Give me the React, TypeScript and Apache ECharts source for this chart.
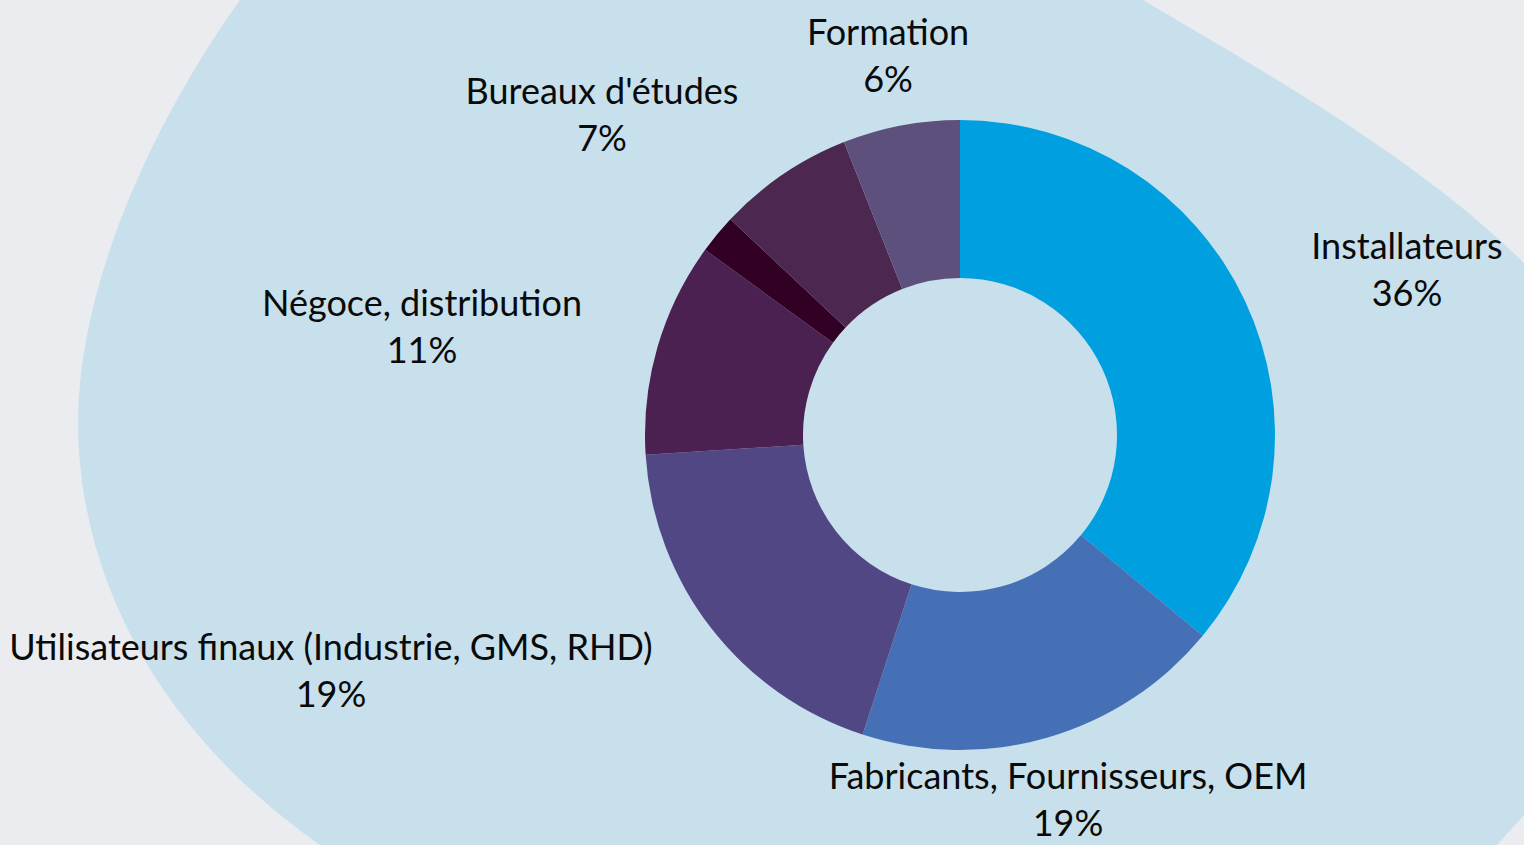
import React, { useEffect, useRef } from "react";
import * as echarts from "echarts";

const categories = [
  "Installateurs",
  "Fabricants, Fournisseurs, OEM",
  "Utilisateurs finaux (Industrie, GMS, RHD)",
  "Négoce, distribution",
  "Autres",
  "Bureaux d'études",
  "Formation",
];
const shares = [36, 19, 19, 11, 2, 7, 6];
const showLabel = [true, true, true, true, false, true, true];
const sliceColors = ["#009FE0", "#4670B5", "#524785", "#4A2150", "#330025", "#4C2750", "#5E507D"];
// label centres (px) for each slice, as placed in the reference
const labelX = [1407, 1068, 331, 422, 0, 602, 888];
const labelY = [268, 798, 669, 325, 0, 113, 54];

const blobPath =
  "M 240 0 C 175 90 80 260 78 420 C 78 590 170 740 320 845 L 1497 845 L 1524 815 L 1524 263 C 1420 160 1270 75 1143 0 Z";

let registered = false;

export default function App() {
  const ref = useRef<HTMLDivElement>(null);
  useEffect(() => {
    if (!ref.current) return;
    if (!registered) {
      echarts.graphic.registerShape("blob", echarts.graphic.extendPath(blobPath, {}));
      registered = true;
    }
    const chart = echarts.init(ref.current, null, { renderer: "svg" });
    chart.setOption({
      animation: false,
      backgroundColor: "#EBECF0",
      graphic: [
        {
          type: "blob",
          x: 0,
          y: 0,
          scaleX: 1,
          scaleY: 1,
          z: 0,
          silent: true,
          style: { fill: "#C8E0EC" },
        },
      ],
      series: [
        {
          type: "pie",
          z: 5,
          center: [960, 435],
          radius: [157, 315],
          startAngle: 90,
          clockwise: true,
          silent: true,
          avoidLabelOverlap: false,
          labelLine: { show: false },
          label: {
            show: true,
            position: "outside",
            formatter: "{b}\n{d}%",
            fontFamily: "Lato, 'Open Sans', sans-serif",
            fontSize: 36,
            lineHeight: 47,
            color: "#0A0A0A",
            align: "center",
          },
          labelLayout: (p: any) => {
            const i = p.dataIndex;
            return {
              x: labelX[i],
              y: labelY[i],
              align: "center",
              verticalAlign: "middle",
            };
          },
          data: categories.map((name, i) => ({
            name,
            value: shares[i],
            itemStyle: { color: sliceColors[i] },
            label: { show: showLabel[i] },
          })),
        },
      ],
    });
    return () => chart.dispose();
  }, []);
  return (
    <div
      ref={ref}
      style={{ position: "absolute", left: 0, top: 0, width: 1524, height: 845 }}
    />
  );
}
